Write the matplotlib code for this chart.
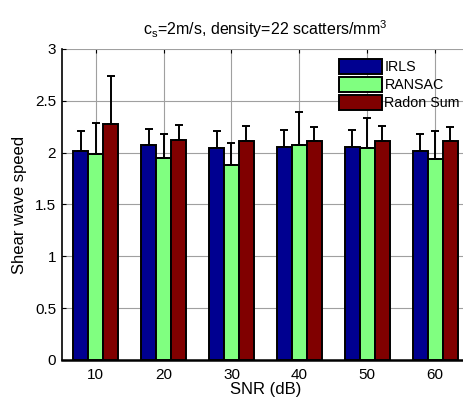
import matplotlib
matplotlib.use("Agg")
import matplotlib.pyplot as plt
import numpy as np

plt.rcParams['font.family'] = ['Liberation Sans', 'DejaVu Sans']

snr = [10, 20, 30, 40, 50, 60]
series_names = ["IRLS", "RANSAC", "Radon Sum"]
irls = [2.02, 2.07, 2.04, 2.05, 2.05, 2.02]
irls_err = [0.19, 0.16, 0.17, 0.17, 0.17, 0.16]
ransac = [1.99, 1.95, 1.88, 2.07, 2.04, 1.94]
ransac_err = [0.30, 0.23, 0.21, 0.32, 0.29, 0.27]
radon = [2.28, 2.12, 2.11, 2.11, 2.11, 2.11]
radon_err = [0.46, 0.15, 0.15, 0.14, 0.15, 0.14]
colors = ["#000090", "#80FF80", "#800000"]

fig = plt.figure(figsize=(4.63, 3.98), dpi=100)
ax = fig.add_axes([0.1333, 0.0955, 0.88, 0.7815])

x = np.array(snr, dtype=float)
w = 2.2
vals = [irls, ransac, radon]
errs = [irls_err, ransac_err, radon_err]
for i, (v, e) in enumerate(zip(vals, errs)):
    xs = x + (i - 1) * w
    ax.bar(xs, v, width=w, color=colors[i], edgecolor='black', linewidth=1.4,
           label=series_names[i], zorder=3)
    ax.errorbar(xs, v, yerr=[np.zeros(len(e)), e], fmt='none', ecolor='black',
                elinewidth=1.4, capsize=2.8, capthick=1.4, zorder=4)

ax.set_xlim(5, 65)
ax.set_ylim(0, 3)
ax.set_xticks(snr)
ax.set_yticks([0, 0.5, 1, 1.5, 2, 2.5, 3])
ax.set_yticklabels(["0", "0.5", "1", "1.5", "2", "2.5", "3"])
ax.grid(True, color='#a0a0a0', linewidth=0.8, linestyle='-', zorder=0)
ax.set_axisbelow(True)
for s in ['top', 'right']:
    ax.spines[s].set_visible(False)
ax.spines['left'].set_linewidth(1.2)
ax.spines['bottom'].set_linewidth(1.8)
ax.tick_params(direction='in', length=3, labelsize=11, width=0.8, top=True)
ax.tick_params(axis='x', pad=6)
ax.tick_params(axis='y', pad=4)

ax.set_xlabel("SNR (dB)", fontsize=12, labelpad=0)
ax.set_ylabel("Shear wave speed", fontsize=12, labelpad=6)
ax.set_title(r"c$_\mathregular{s}$=2m/s, density=22 scatters/mm$^\mathregular{3}$",
             fontsize=11.5, pad=10)

leg = ax.legend(loc='upper left', bbox_to_anchor=(0.655, 1.0), frameon=False,
                fontsize=10.3, handlelength=3.0, handleheight=1.2, handletextpad=0.2,
                labelspacing=0.2, borderaxespad=0.3)

fig.savefig("out.png", dpi=100)
